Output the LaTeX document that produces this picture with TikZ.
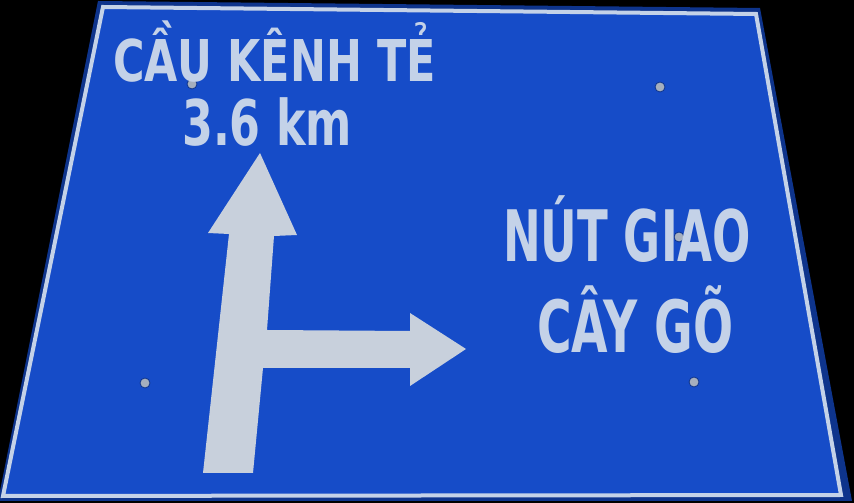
\documentclass[tikz,border=0pt]{standalone}
\usepackage{fontspec}
\usepackage{tikz}
\newfontfamily\signfont{DejaVu Sans}
\definecolor{signblue}{RGB}{22,76,200}
\definecolor{signedge}{RGB}{14,52,140}
\definecolor{signwhite}{RGB}{196,210,232}
\definecolor{arrowgrey}{RGB}{200,208,220}
\definecolor{boltgrey}{RGB}{165,175,190}
\newcommand{\signline}[3]{\fontsize{#1}{#1}\selectfont\scalebox{#2}[1]{#3}}
\tikzset{
  signtext/.style={inner sep=0pt, anchor=base west, text=signwhite, font=\signfont\bfseries},
  bolt/.style={fill=boltgrey, draw=signedge, line width=0.8pt}
}

\begin{document}
\begin{tikzpicture}[x=1pt,y=1pt]
            \useasboundingbox (0,0) rectangle (854,503);
            \fill[black] (0,0) rectangle (854,503);

            % Draw sign plate and border
            \fill[signedge] (98,502) -- (760,495) -- (852,2) -- (-2,2) -- cycle;
            \draw[signwhite, line width=4pt, fill=signblue, line join=miter] (103,496) -- (756,489) -- (841,8) -- (3,7) -- cycle;

            % Draw arrow
            \fill[arrowgrey] (260,350) -- (297,268) -- (274,267) -- (267,173) -- (410,172) -- (410,190)
                -- (466,154) -- (410,117) -- (410,135) -- (263,135) -- (253,30) -- (203,30)
                -- (229,269) -- (208,270) -- cycle;

            % Draw bolts
            \foreach \bx/\by in {192/419, 660/416, 679/266, 145/120, 694/121}
                \draw[bolt] (\bx,\by) circle (5pt);

            % Add labels
            \node[signtext] (kenhte) at (113,421) {\signline{57.6}{0.745}{CẦU KÊNH TẺ}};
            \node[signtext] (distance) at (182,357) {\signline{63}{0.705}{3.6 km}};
            \node[signtext] (nutgiao) at (503,241) {\signline{71}{0.635}{NÚT GIAO}};
            \node[signtext] (caygo) at (537,150) {\signline{72}{0.655}{CÂY GÕ}};
        \end{tikzpicture}
\end{document}
